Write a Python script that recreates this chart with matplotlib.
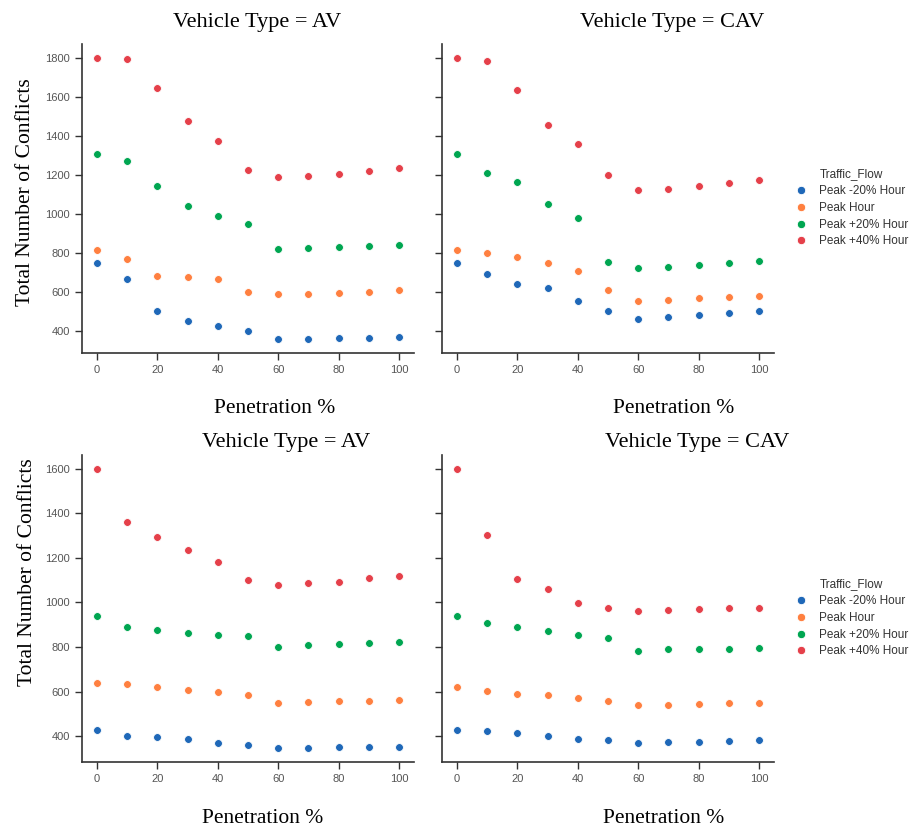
import matplotlib
matplotlib.use("Agg")
import matplotlib.pyplot as plt
from matplotlib.lines import Line2D

penetration = [0, 10, 20, 30, 40, 50, 60, 70, 80, 90, 100]
flows = ["Peak -20% Hour", "Peak Hour", "Peak +20% Hour", "Peak +40% Hour"]
colors = ["#1f68b8", "#ff8040", "#00a651", "#e5404a"]

# Top row, AV
top_av_m20 = [747, 664, 501, 450, 422, 400, 357, 357, 360, 364, 367]
top_av_peak = [813, 769, 681, 673, 664, 596, 589, 590, 592, 599, 609]
top_av_p20 = [1308, 1270, 1141, 1040, 990, 946, 817, 822, 827, 833, 841]
top_av_p40 = [1800, 1797, 1646, 1479, 1373, 1224, 1189, 1196, 1206, 1222, 1235]
# Top row, CAV
top_cav_m20 = [747, 692, 640, 621, 551, 501, 461, 470, 482, 492, 501]
top_cav_peak = [813, 799, 779, 746, 707, 611, 551, 559, 568, 573, 580]
top_cav_p20 = [1308, 1212, 1162, 1050, 978, 752, 721, 729, 736, 745, 758]
top_cav_p40 = [1800, 1786, 1635, 1458, 1359, 1201, 1121, 1129, 1141, 1160, 1172]
# Bottom row, AV
bot_av_m20 = [425, 400, 394, 388, 367, 361, 346, 348, 349, 351, 352]
bot_av_peak = [638, 634, 622, 608, 599, 584, 548, 553, 557, 559, 562]
bot_av_p20 = [940, 889, 877, 864, 855, 850, 799, 808, 814, 819, 823]
bot_av_p40 = [1600, 1361, 1295, 1237, 1181, 1102, 1080, 1089, 1093, 1108, 1120]
# Bottom row, CAV
bot_cav_m20 = [429, 423, 413, 400, 388, 380, 370, 371, 374, 377, 380]
bot_cav_peak = [619, 601, 591, 585, 570, 558, 540, 541, 544, 547, 549]
bot_cav_p20 = [940, 910, 889, 874, 855, 840, 784, 789, 790, 793, 795]
bot_cav_p40 = [1600, 1305, 1106, 1060, 999, 975, 964, 967, 972, 975, 976]

panels = [
    [top_av_m20, top_av_peak, top_av_p20, top_av_p40],
    [top_cav_m20, top_cav_peak, top_cav_p20, top_cav_p40],
    [bot_av_m20, bot_av_peak, bot_av_p20, bot_av_p40],
    [bot_cav_m20, bot_cav_peak, bot_cav_p20, bot_cav_p40],
]
panel_titles = ["Vehicle Type = AV", "Vehicle Type = CAV",
                "Vehicle Type = AV", "Vehicle Type = CAV"]

W, H = 913, 830
fig = plt.figure(figsize=(W / 100, H / 100), dpi=100)

serif = "Liberation Serif"
sans = "Liberation Sans"

def px_rect(left, top, width, height):
    return [left / W, 1 - (top + height) / H, width / W, height / H]

rects = [
    px_rect(82, 44, 332, 309),
    px_rect(442, 44, 332, 309),
    px_rect(82, 455, 332, 307),
    px_rect(442, 455, 332, 307),
]

axes = []
for i, (rect, data) in enumerate(zip(rects, panels)):
    ax = fig.add_axes(rect)
    axes.append(ax)
    for vals, c in zip(data, colors):
        ax.scatter(penetration, vals, s=32, color=c, edgecolors="white",
                   linewidths=0.6, zorder=3)
    ax.set_xlim(-5, 105)
    ax.set_xticks([0, 20, 40, 60, 80, 100])
    for sp in ["top", "right"]:
        ax.spines[sp].set_visible(False)
    for sp in ["left", "bottom"]:
        ax.spines[sp].set_color("#333333")
        ax.spines[sp].set_linewidth(1.2)
    ax.tick_params(length=5, width=1, color="#333333", labelsize=8,
                   labelcolor="#555555")

# shared y per row
for a, b in [(0, 1), (2, 3)]:
    lo = min(axes[a].get_ylim()[0], axes[b].get_ylim()[0])
    hi = max(axes[a].get_ylim()[1], axes[b].get_ylim()[1])
    axes[a].set_ylim(lo, hi)
    axes[b].set_ylim(lo, hi)
    axes[b].tick_params(labelleft=False)
axes[0].set_yticks([400, 600, 800, 1000, 1200, 1400, 1600, 1800])
axes[1].set_yticks([400, 600, 800, 1000, 1200, 1400, 1600, 1800])
axes[2].set_yticks([400, 600, 800, 1000, 1200, 1400, 1600])
axes[3].set_yticks([400, 600, 800, 1000, 1200, 1400, 1600])
for ax in axes:
    for lab in ax.get_xticklabels() + ax.get_yticklabels():
        lab.set_fontfamily(sans)

# titles and labels (pixel centres)
title_pos = [(257, 22), (672, 22), (286, 442), (697, 442)]
for (x, y), t in zip(title_pos, panel_titles):
    fig.text(x / W, 1 - y / H, t, ha="center", va="center",
             fontsize=16, fontfamily=serif, color="black")

xlabel_pos = [(275, 408), (674, 408), (263, 818), (664, 818)]
for x, y in xlabel_pos:
    fig.text(x / W, 1 - y / H, "Penetration %", ha="center", va="center",
             fontsize=15.5, fontfamily=serif, color="black")

ylabel_pos = [(26, 192), (28, 572)]
for x, y in ylabel_pos:
    fig.text(x / W, 1 - y / H, "Total Number of Conflicts", ha="center",
             va="center", rotation=90, fontsize=15.5, fontfamily=serif,
             color="black")

# legends
handles = [Line2D([0], [0], marker="o", linestyle="", markersize=6,
                  markerfacecolor=c, markeredgecolor="white",
                  markeredgewidth=0.6) for c in colors]
for y in [208, 618]:
    leg = fig.legend(handles, flows, title="Traffic_Flow", loc="center left",
                     bbox_to_anchor=(787 / W, 1 - y / H), frameon=False,
                     prop={"family": sans, "size": 8.5},
                     title_fontproperties={"family": sans, "size": 8.5},
                     handlelength=1.0, handletextpad=1.0, labelspacing=0.4,
                     borderpad=0.2)
    for txt in leg.get_texts():
        txt.set_color("#333333")
    leg.get_title().set_color("#333333")

fig.savefig("out.png", dpi=100)
